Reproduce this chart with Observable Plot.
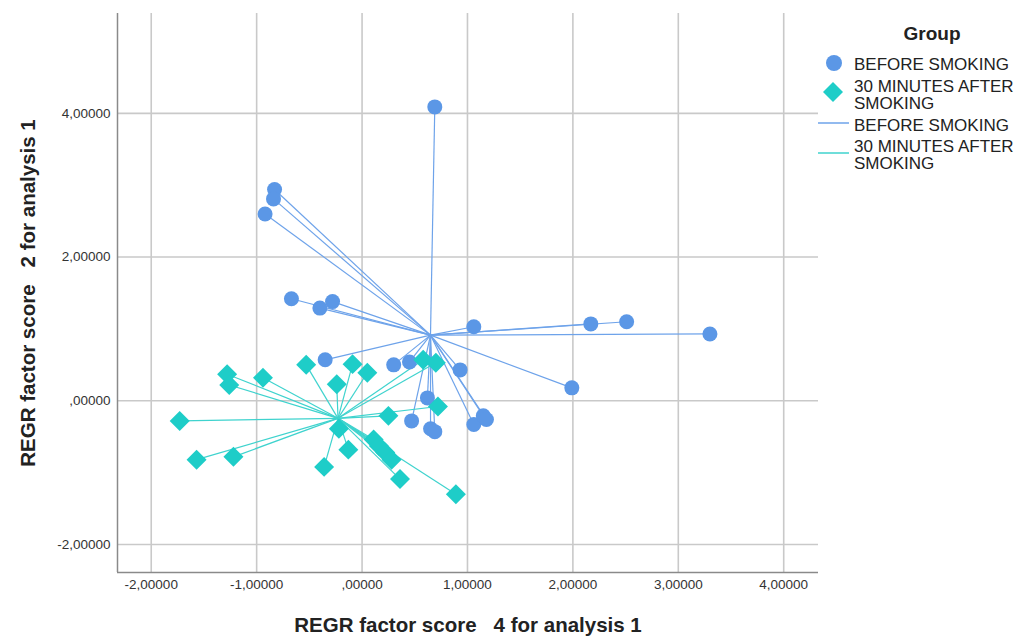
<!DOCTYPE html>
<html><head><meta charset="utf-8">
<script src="https://cdn.jsdelivr.net/npm/d3@7"></script>
<script src="https://cdn.jsdelivr.net/npm/@observablehq/plot@0.6"></script>
<style>
body{margin:0;background:#fff;font-family:"Liberation Sans",Arial,sans-serif;}
#wrap{position:relative;width:1025px;height:639px;overflow:hidden;}
#legend{position:absolute;left:810px;top:0;}
</style></head><body>
<div id="wrap"><div id="chart"></div><svg id="legend" width="215" height="185"></svg></div>
<script>
const groups = ["BEFORE SMOKING", "30 MINUTES AFTER SMOKING"];
const legendTitle = "Group";
const beforeX = [0.69,-0.83,-0.84,-0.92,-0.67,-0.40,-0.28,1.06,2.17,2.51,3.30,1.99,-0.35,0.30,0.45,0.93,0.62,0.47,0.65,0.69,1.06,1.15,1.18];
const beforeY = [4.09,2.94,2.81,2.60,1.42,1.29,1.38,1.03,1.07,1.10,0.93,0.18,0.57,0.50,0.54,0.43,0.04,-0.28,-0.39,-0.43,-0.33,-0.21,-0.26];
const afterX = [-1.73,-1.57,-1.22,-1.28,-1.26,-0.94,-0.53,-0.24,-0.09,0.05,-0.22,-0.13,-0.36,0.25,0.36,0.89,0.58,0.70,0.72,0.11,0.16,0.22,0.28];
const afterY = [-0.28,-0.82,-0.78,0.37,0.22,0.32,0.50,0.23,0.51,0.39,-0.39,-0.68,-0.92,-0.21,-1.09,-1.30,0.57,0.53,-0.08,-0.54,-0.63,-0.72,-0.82];
const xTicks = [-2,-1,0,1,2,3,4];
const yTicks = [-2,0,2,4];
const xLabel = "REGR factor score   4 for analysis 1";
const yLabel = "REGR factor score   2 for analysis 1";

const blue = "#5b97e6", teal = "#1ecdc8";
const blueLine = "#6ea3ea", tealLine = "#3fd3ce";
const fmt = d => d === 0 ? ",00000" : d.toFixed(5).replace(".", ",");

const before = beforeX.map((x, i) => ({x, y: beforeY[i], g: groups[0]}));
const after = afterX.map((x, i) => ({x, y: afterY[i], g: groups[1]}));
const cB = [d3.mean(before, d => d.x), d3.mean(before, d => d.y)];
const cA = [d3.mean(after, d => d.x), d3.mean(after, d => d.y)];
const xDom = [-2.32, 4.33], yDom = [-2.39, 5.39];

const chart = Plot.plot({
  width: 830, height: 639,
  marginLeft: 117, marginRight: 12, marginTop: 13, marginBottom: 67,
  x: {domain: xDom}, y: {domain: yDom},
  style: {fontFamily: "Liberation Sans, Arial, sans-serif", fontSize: "13.5px", color: "#333", background: "#fff"},
  marks: [
    Plot.gridX(xTicks, {stroke: "#c9c9c9", strokeOpacity: 1, strokeWidth: 1.6}),
    Plot.gridY(yTicks, {stroke: "#c9c9c9", strokeOpacity: 1, strokeWidth: 1.6}),
    Plot.ruleX([xDom[0]], {stroke: "#8a8a8a", strokeWidth: 1.5}),
    Plot.ruleY([yDom[0]], {stroke: "#8a8a8a", strokeWidth: 1.5}),
    Plot.axisX(xTicks, {tickSize: 0, tickPadding: 7, tickFormat: fmt, label: null, fontSize: 13.5}),
    Plot.axisY(yTicks, {tickSize: 0, tickPadding: 7, tickFormat: fmt, label: null, fontSize: 13.5}),
    Plot.link(before, {x1: "x", y1: "y", x2: () => cB[0], y2: () => cB[1], stroke: blueLine, strokeWidth: 1.2}),
    Plot.link(after, {x1: "x", y1: "y", x2: () => cA[0], y2: () => cA[1], stroke: tealLine, strokeWidth: 1.2}),
    Plot.dot(before, {x: "x", y: "y", r: 7.5, fill: blue, symbol: "circle"}),
    Plot.dot(after, {x: "x", y: "y", r: 9, fill: teal, symbol: "diamond2"}),
    Plot.text([xLabel], {text: d => d, frameAnchor: "bottom", textAnchor: "middle", lineAnchor: "middle", dy: 53, fontSize: 20.5, fontWeight: "bold", fill: "#222"}),
    Plot.text([yLabel], {text: d => d, frameAnchor: "left", textAnchor: "middle", lineAnchor: "middle", dx: -89, rotate: -90, fontSize: 20.5, fontWeight: "bold", fill: "#222"})
  ]
});
chart.querySelectorAll("text").forEach(t => t.style.whiteSpace = "pre");
document.getElementById("chart").appendChild(chart);

// legend
const lg = d3.select("#legend").style("font-family", "Liberation Sans, Arial, sans-serif");
lg.append("text").attr("x", 122).attr("y", 33).attr("dy", "0.35em").attr("text-anchor", "middle")
  .attr("font-size", 19).attr("font-weight", "bold").attr("fill", "#222").text(legendTitle);
function label(lines, y0) {
  const t = lg.append("text").attr("x", 44).attr("font-size", 17).attr("fill", "#222");
  lines.forEach((s, i) => t.append("tspan").attr("x", 44).attr("y", y0 + i * 17.5).attr("dy", "0.35em").text(s));
}
const split = s => s === groups[1] ? ["30 MINUTES AFTER", "SMOKING"] : [s];
lg.append("circle").attr("cx", 24).attr("cy", 63).attr("r", 8).attr("fill", blue);
label(split(groups[0]), 64);
lg.append("path").attr("d", d3.symbol(d3.symbolDiamond2, Math.PI * 9 * 9 * 1.0)()).attr("transform", "translate(23,92)").attr("fill", teal);
label(split(groups[1]), 86);
lg.append("line").attr("x1", 8).attr("x2", 39).attr("y1", 123).attr("y2", 123).attr("stroke", blueLine).attr("stroke-width", 1.5);
label(split(groups[0]), 125);
lg.append("line").attr("x1", 8).attr("x2", 39).attr("y1", 153).attr("y2", 153).attr("stroke", tealLine).attr("stroke-width", 1.5);
label(split(groups[1]), 146);
</script>
</body></html>
